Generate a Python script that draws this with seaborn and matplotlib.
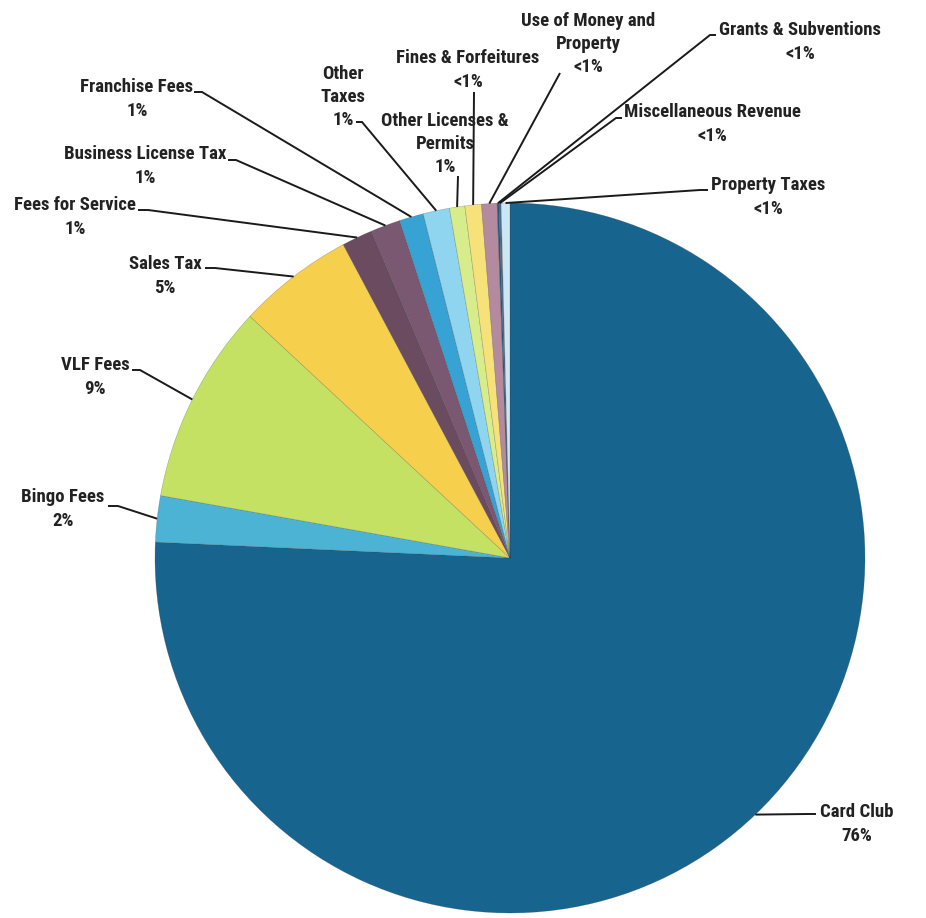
import numpy as np
import matplotlib
matplotlib.use("Agg")
import matplotlib.pyplot as plt
from matplotlib import font_manager as fm
import seaborn as sns

# ---- data ----
categories = ["Card Club", "Bingo Fees", "VLF Fees", "Sales Tax", "Fees for Service",
              "Business License Tax", "Franchise Fees", "Other Taxes",
              "Other Licenses & Permits", "Fines & Forfeitures",
              "Use of Money and Property", "Grants & Subventions",
              "Miscellaneous Revenue", "Property Taxes"]
shares = [75.7, 2.1, 9.1, 5.3, 1.4, 1.35, 1.1, 1.2, 0.7, 0.75, 0.7, 0.08, 0.1, 0.4]
pct_labels = ["76%", "2%", "9%", "5%", "1%", "1%", "1%", "1%", "1%",
              "<1%", "<1%", "<1%", "<1%", "<1%"]
label_text = ["Card Club", "Bingo Fees", "VLF Fees", "Sales Tax", "Fees for Service",
              "Business License Tax", "Franchise Fees", "Other\nTaxes",
              "Other Licenses &\nPermits", "Fines & Forfeitures",
              "Use of Money and\nProperty", "Grants & Subventions",
              "Miscellaneous Revenue", "Property Taxes"]

# ---- style ----
colors = ["#17648f", "#4cb3d4", "#c5e164", "#f6d04d", "#6b4b5f", "#7a5872",
          "#36a3d4", "#8fd5f0", "#d7ec8a", "#f7e27a", "#b48a9e", "#2a5a80",
          "#4d6f8f", "#cde6f3"]

# text centre (px, top-left origin), leader start point (px), elbow direction
text_pos = [(857, 824), (63, 509), (95, 377), (165, 276), (75, 217), (145, 166),
            (137, 99), (343, 97), (445, 144), (468, 70), (588, 44), (800, 42),
            (712, 124), (768, 197)]
anchor_pos = [(816, 814), (108, 506), (132, 370), (205, 268), (138, 210),
              (228, 160), (194, 92), (356, 122), (458, 176), (474, 92),
              (560, 73), (716, 35), (622, 118), (708, 190)]
elbow = [-8, 10, 8, 10, 10, 8, 8, 6, 0, 0, 0, -6, -6, -8]

W, H = 926, 918
sns.set_theme(style="white")

names = {f.name for f in fm.fontManager.ttflist}
narrow = None
for cand in ["Liberation Sans Narrow", "DejaVu Sans Condensed", "Roboto Condensed",
             "Open Sans Condensed"]:
    if cand in names:
        narrow = cand
        break
if narrow is None:
    narrow = "DejaVu Sans"
plt.rcParams['font.family'] = [narrow, 'DejaVu Sans']

fig = plt.figure(figsize=(W / 100, H / 100), dpi=100)
ax = fig.add_axes([0, 0, 1, 1])

cx, cy, R = 510, H - 558, 355
wedges, _ = ax.pie(shares, colors=colors, startangle=90, counterclock=False,
                   center=(cx, cy), radius=R, frame=True,
                   wedgeprops=dict(linewidth=0.4, edgecolor="#33333355"))
ax.set_xlim(0, W)
ax.set_ylim(0, H)
ax.set_aspect("equal")
ax.axis("off")

for w, txt, pct, (tx, ty), (axp, ayp), eb in zip(wedges, label_text, pct_labels,
                                                   text_pos, anchor_pos, elbow):
    mid = np.deg2rad((w.theta1 + w.theta2) / 2)
    ex = cx + R * np.cos(mid)
    ey = cy + R * np.sin(mid)
    ax.text(tx, H - ty, txt + "\n" + pct, ha="center", va="center",
            fontsize=13.5, fontweight="bold", fontstretch="condensed",
            color="#222222", linespacing=1.38)
    xs = [axp, axp + eb, ex] if eb else [axp, ex]
    ys = [H - ayp, H - ayp, ey] if eb else [H - ayp, ey]
    ax.plot(xs, ys, color="#1a1a1a", lw=1.4, solid_capstyle="butt",
            solid_joinstyle="miter")

fig.savefig("out.png", dpi=100, facecolor="white")
